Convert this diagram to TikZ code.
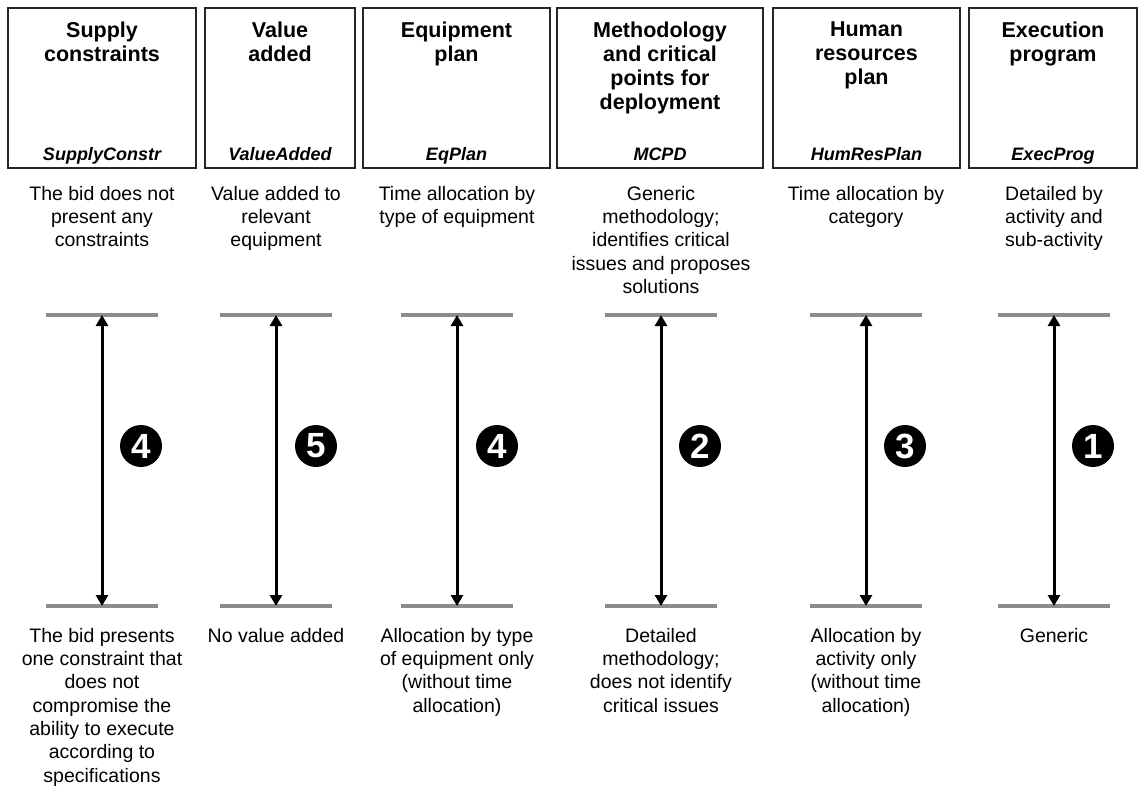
\documentclass[tikz,border=0pt]{standalone}
\usepackage{fontspec}
\setmainfont{Liberation Sans}
\usetikzlibrary{arrows.meta}
\begin{document}
\begin{tikzpicture}[x=1pt,y=-1pt,
  hdrbox/.style={draw=black!85, line width=1.3pt, minimum height=160pt, inner sep=0pt},
  hdrtitle/.style={anchor=north, align=center, inner sep=0pt,
    font=\fontsize{21.5}{24}\selectfont\bfseries},
  hdrlabel/.style={anchor=base, inner sep=0pt,
    font=\fontsize{18}{20}\selectfont\bfseries\itshape},
  desc/.style={anchor=north, align=center, inner sep=0pt,
    font=\fontsize{19.5}{23.3}\selectfont},
  limit/.style={draw=black!45, line width=3.8pt},
  span/.style={line width=3pt, {Triangle[length=11pt,width=12pt]}-{Triangle[length=11pt,width=12pt]}},
  score/.style={circle, fill=black, minimum size=42pt, inner sep=0pt, text=white,
    font=\fontsize{35}{35}\selectfont\bfseries}]
\useasboundingbox (0,0) rectangle (1144,787);

% header boxes
\node[hdrbox, minimum width=188pt] (h1) at (102,88) {};
\node[hdrbox, minimum width=150pt] (h2) at (280,88) {};
\node[hdrbox, minimum width=187pt] (h3) at (456.5,88) {};
\node[hdrbox, minimum width=206pt] (h4) at (660,88) {};
\node[hdrbox, minimum width=187pt] (h5) at (866.5,88) {};
\node[hdrbox, minimum width=168pt] (h6) at (1053,88) {};

% titles
\node[hdrtitle] (t1) at (102,22) {Supply\\constraints};
\node[hdrtitle] (t2) at (280,22) {Value\\added};
\node[hdrtitle] (t3) at (456.5,22) {Equipment\\plan};
\node[hdrtitle] (t4) at (660,22) {Methodology\\and critical\\points for\\deployment};
\node[hdrtitle] (t5) at (866.5,22) {Human\\resources\\plan};
\node[hdrtitle] (t6) at (1053,22) {Execution\\program};

% short names
\node[hdrlabel] (l1) at (102,160) {SupplyConstr};
\node[hdrlabel] (l2) at (280,160) {ValueAdded};
\node[hdrlabel] (l3) at (456.5,160) {EqPlan};
\node[hdrlabel] (l4) at (660,160) {MCPD};
\node[hdrlabel] (l5) at (866.5,160) {HumResPlan};
\node[hdrlabel] (l6) at (1053,160) {ExecProg};

% scale ends
\foreach \i/\x in {1/102, 2/276, 3/457, 4/661, 5/866, 6/1054} {
  \coordinate (up\i) at (\x,315);
  \coordinate (lo\i) at (\x,606);
  \draw[limit] ([xshift=-56pt]up\i) -- ([xshift=56pt]up\i);
  \draw[limit] ([xshift=-56pt]lo\i) -- ([xshift=56pt]lo\i);
  \draw[span] (up\i) -- (lo\i);
}

% ranks
\node[score] (s1) at (141,446) {4};
\node[score] (s2) at (316,446) {5};
\node[score] (s3) at (497,446) {4};
\node[score] (s4) at (700,446) {2};
\node[score] (s5) at (905,446) {3};
\node[score] (s6) at (1093,446) {1};

% upper descriptions
\node[desc] (u1) at (102,186) {The bid does not\\present any\\constraints};
\node[desc] (u2) at (276,186) {Value added to\\relevant\\equipment};
\node[desc] (u3) at (457,186) {Time allocation by\\type of equipment};
\node[desc] (u4) at (661,186) {Generic\\methodology;\\identifies critical\\issues and proposes\\solutions};
\node[desc] (u5) at (866,186) {Time allocation by\\category};
\node[desc] (u6) at (1054,186) {Detailed by\\activity and\\sub-activity};

% lower descriptions
\node[desc] (d1) at (102,628) {The bid presents\\one constraint that\\does not\\compromise the\\ability to execute\\according to\\specifications};
\node[desc] (d2) at (276,628) {No value added};
\node[desc] (d3) at (457,628) {Allocation by type\\of equipment only\\(without time\\allocation)};
\node[desc] (d4) at (661,628) {Detailed\\methodology;\\does not identify\\critical issues};
\node[desc] (d5) at (866,628) {Allocation by\\activity only\\(without time\\allocation)};
\node[desc] (d6) at (1054,628) {Generic};
\end{tikzpicture}
\end{document}
